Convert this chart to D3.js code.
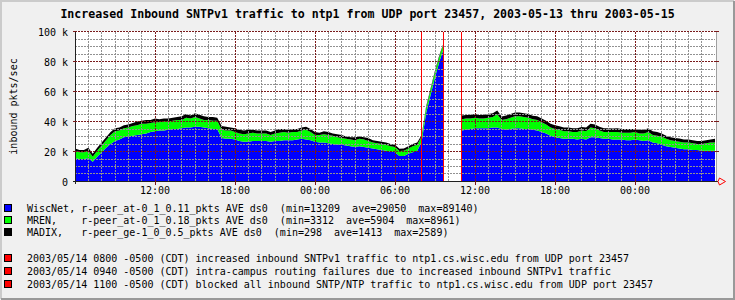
<!DOCTYPE html>
<html>
<head>
<meta charset="utf-8">
<script src="https://cdn.jsdelivr.net/npm/d3@7"></script>
<style>
  body { margin: 0; background: #f0f0f0; }
  svg text { font-family: "DejaVu Sans Mono", monospace; fill: #000; white-space: pre; }
</style>
</head>
<body>
<svg id="vis" width="735" height="300"></svg>
<script>
// samples every 20 minutes from 2003-05-13 06:00, values in k pkts/sec
var startTime = new Date(2003, 4, 13, 6, 0);
var endTime = new Date(2003, 4, 15, 6, 0);
var stepMinutes = 20;

var wiscnet = [
  15.5, 15, 15, 15.5, 13.2, 16.5, 19.5, 22.5, 25, 27,
  28, 29.5, 30, 30.5, 31, 31.5, 32, 33, 33.5, 34,
  34, 34.5, 35, 35, 35.5, 36, 36, 36.5, 36.5, 36,
  35.5, 35, 35, 29, 28.5, 28.5, 28, 27, 26.5, 26.5,
  27, 27, 27, 27, 26.5, 27, 27, 27.5, 27.5, 27.5,
  28, 28.5, 28, 27.5, 26.5, 26, 26, 25.5, 25, 24.5,
  24.5, 24, 23.5, 23, 23.5, 23, 22.5, 22, 21.5, 21,
  20.5, 20, 19.5, 17, 17, 18.5, 19.5, 20.5, 26.5, 45.5,
  57.5, 69.5, 80, 89.1, null, null, null, 34, 34.5, 35,
  35.5, 35.5, 35.5, 35.5, 36, 36, 35, 34.5, 35, 35.5,
  35.5, 35, 35, 34.5, 34, 33, 32, 30.5, 29.5, 29,
  28.5, 28.5, 28.5, 28, 28.5, 28, 29.5, 29.5, 29, 28.5,
  28.5, 28, 28, 28, 27.5, 27.5, 28, 27.5, 27, 27.5,
  26, 25.5, 24.5, 23.5, 23, 22.5, 22, 21.5, 21.5, 21,
  21, 20.5, 20.5, 20.5, 20.5
];

var mren = [
  5, 4.5, 4.5, 5, 3.3, 4, 4.5, 5, 6, 6.5,
  6, 6, 6, 6.5, 6.5, 7, 6.5, 6, 6, 5.5,
  6, 5.5, 5.5, 6, 5.5, 6.5, 6, 6.5, 5.5, 5,
  5.5, 5.5, 5.5, 5.5, 5.5, 5.5, 5, 5, 5, 5.5,
  5.5, 5, 5, 5, 4.5, 5, 5.5, 5.5, 5, 5.5,
  5, 5.5, 6.5, 5.5, 4.5, 5, 5.5, 5.5, 5.5, 5,
  4.5, 4.5, 4.5, 4.5, 5, 5, 4.5, 4, 4, 4,
  4, 3.5, 3.5, 3.4, 3.5, 3.5, 4, 4, 3.5, 3.5,
  3.5, 3.5, 3.5, 3.3, null, null, null, 7.5, 7.5, 7,
  7, 6.5, 6.5, 7, 7, 8.9, 6, 7, 7.5, 8,
  8, 8, 7.5, 7, 7, 6.5, 6, 5.5, 5.5, 5.5,
  5, 5, 4.5, 5, 5.5, 5.5, 6.5, 6, 5, 4.5,
  4.5, 5, 5, 4.5, 5, 5, 5, 4.5, 5, 5.5,
  5, 5, 5.5, 5, 4.5, 4.5, 4.5, 4.5, 4.5, 4.5,
  4, 4.5, 5, 5.5, 5.5
];

var madix = [
  1.5, 1.5, 1.5, 2, 2, 2, 2, 2, 2, 2,
  2, 2, 2, 2, 2.5, 2, 2.5, 2, 2.5, 2,
  2, 2, 2, 2, 2.5, 2.5, 2, 2.5, 2.5, 2.5,
  2, 2.5, 2, 2.5, 2.5, 2, 2.5, 2.5, 2.5, 2.5,
  2, 2, 2, 2, 2, 2, 2.5, 2, 2, 2,
  2, 2, 2, 2, 2, 1.5, 2, 2, 1.5, 2,
  2, 1.5, 1.5, 2, 1.5, 1.5, 2, 1.5, 1.5, 1.5,
  1.5, 1.5, 1.5, 1.5, 1.5, 1.5, 1.5, 1.5, 1, 1,
  1, 1, 1, 0.5, null, null, null, 2.5, 2.4, 2.5,
  2.5, 2.4, 2.5, 2.5, 2.5, 2.5, 2.4, 2.5, 2.5, 2.5,
  2.5, 2.5, 2.5, 2.4, 2.5, 2.5, 2.5, 2.5, 2.5, 2.4,
  2.5, 2.5, 2.5, 2.5, 2.4, 2.5, 2.5, 2.5, 2.5, 2.5,
  2.5, 2.4, 2.5, 2.5, 2.5, 2.5, 2, 2.5, 2.5, 2.5,
  2.5, 2.5, 2, 2, 2, 2, 2.2, 2, 2, 2,
  2, 2, 2, 2, 2.5
];

var seriesKeys = ["wiscnet", "mren", "madix"];
var seriesColors = ["#0000ff", "#00ff00", "#000000"];
var seriesLegend = [
  "WiscNet, r-peer_at-0_1_0.11_pkts AVE ds0  (min=13209  ave=29050  max=89140)",
  "MREN,    r-peer_at-0_1_0.18_pkts AVE ds0  (min=3312  ave=5904  max=8961)",
  "MADIX,   r-peer_ge-1_0_0.5_pkts AVE ds0  (min=298  ave=1413  max=2589)"
];

var eventTimes = [new Date(2003, 4, 14, 8, 0), new Date(2003, 4, 14, 9, 40), new Date(2003, 4, 14, 11, 0)];
var eventNotes = [
  "2003/05/14 0800 -0500 (CDT) increased inbound SNTPv1 traffic to ntp1.cs.wisc.edu from UDP port 23457",
  "2003/05/14 0940 -0500 (CDT) intra-campus routing failures due to increased inbound SNTPv1 traffic",
  "2003/05/14 1100 -0500 (CDT) blocked all inbound SNTP/NTP traffic to ntp1.cs.wisc.edu from UDP port 23457"
];

var yTicks = [0, 20, 40, 60, 80, 100];

/* setup */
var svg = d3.select("#vis");
var W = 735, H = 300;
var plotL = 75, plotR = 715, plotT = 31.5, plotB = 181.5;

var x = d3.scaleTime().domain([startTime, endTime]).range([plotL, plotR]);
var y = d3.scaleLinear().domain([0, 100]).range([plotB, plotT]);

function crisp(v) { return Math.floor(v) + 0.5; }

// background and 3d frame
svg.append("rect").attr("width", W).attr("height", H).attr("fill", "#f0f0f0");
svg.append("path").attr("d", "M1,299V1H734").attr("fill", "none").attr("stroke", "#cbcbcb").attr("stroke-width", 2);
svg.append("path").attr("d", "M1,299H734V1").attr("fill", "none").attr("stroke", "#999999").attr("stroke-width", 2);

// canvas
svg.append("rect").attr("x", plotL).attr("y", 31).attr("width", plotR - plotL + 1).attr("height", 151).attr("fill", "#ffffff");

// stacked data
var rows = wiscnet.map(function(v, i) {
  return {
    time: d3.timeMinute.offset(startTime, i * stepMinutes),
    wiscnet: v, mren: mren[i], madix: madix[i]
  };
});

var stack = d3.stack().keys(seriesKeys)
  .value(function(d, key) { return d[key] == null ? NaN : d[key]; });
var layers = stack(rows);

var area = d3.area()
  .defined(function(d) { return !isNaN(d[1]); })
  .x(function(d) { return x(d.data.time); })
  .y0(function(d) { return y(d[0]); })
  .y1(function(d) { return y(d[1]); });

svg.append("g").selectAll("path")
  .data(layers)
  .enter().append("path")
    .attr("d", area)
    .attr("fill", function(d, i) { return seriesColors[i]; });

// grid
var minorY = d3.range(5, 100, 5).filter(function(v) { return v % 20 != 0; });
var majorY = yTicks.slice(1);
var hours = d3.timeHour.range(startTime, endTime).concat([endTime]);
var minorX = hours.filter(function(t) { return t.getHours() % 6 != 0; });
var majorX = hours.filter(function(t) { return t.getHours() % 6 == 0; }).slice(1, -1);

var grid = svg.append("g").attr("shape-rendering", "crispEdges").attr("stroke-width", 1);

grid.selectAll(".mny").data(minorY).enter().append("line")
  .attr("x1", plotL).attr("x2", plotR)
  .attr("y1", function(d) { return crisp(y(d)); }).attr("y2", function(d) { return crisp(y(d)); })
  .attr("stroke", "#919191").attr("stroke-dasharray", "2,1");

grid.selectAll(".mnx").data(minorX).enter().append("line")
  .attr("x1", function(d) { return crisp(x(d)); }).attr("x2", function(d) { return crisp(x(d)); })
  .attr("y1", plotT).attr("y2", plotB)
  .attr("stroke", "#919191").attr("stroke-dasharray", "2,1");

grid.selectAll(".mjy").data(majorY).enter().append("line")
  .attr("x1", plotL).attr("x2", plotR)
  .attr("y1", function(d) { return crisp(y(d)); }).attr("y2", function(d) { return crisp(y(d)); })
  .attr("stroke", "#7a1a1a").attr("stroke-dasharray", "2,1");

grid.selectAll(".mjx").data(majorX).enter().append("line")
  .attr("x1", function(d) { return crisp(x(d)); }).attr("x2", function(d) { return crisp(x(d)); })
  .attr("y1", plotT).attr("y2", plotB)
  .attr("stroke", "#7a1a1a").attr("stroke-dasharray", "2,1");

// event rules
svg.append("g").attr("shape-rendering", "crispEdges")
  .selectAll("line").data(eventTimes).enter().append("line")
    .attr("x1", function(d) { return crisp(x(d)); }).attr("x2", function(d) { return crisp(x(d)); })
    .attr("y1", plotT).attr("y2", plotB)
    .attr("stroke", "#ff0000").attr("stroke-width", 1);

// axes and frame
var ax = svg.append("g").attr("shape-rendering", "crispEdges");
ax.append("line").attr("x1", plotR + 1.5).attr("x2", plotR + 1.5).attr("y1", plotT).attr("y2", plotB)
  .attr("stroke", "#a0a0a0");
ax.append("line").attr("x1", plotL + 0.5).attr("x2", plotL + 0.5).attr("y1", plotT - 1).attr("y2", plotB + 2)
  .attr("stroke", "#202020");
ax.append("line").attr("x1", plotL - 2).attr("x2", plotR + 3).attr("y1", plotB).attr("y2", plotB)
  .attr("stroke", "#202020");

ax.selectAll(".tl").data(majorY).enter().append("line")
  .attr("x1", plotL - 2).attr("x2", plotL + 2)
  .attr("y1", function(d) { return crisp(y(d)); }).attr("y2", function(d) { return crisp(y(d)); })
  .attr("stroke", "#7a1a1a");
ax.selectAll(".tr").data(majorY).enter().append("line")
  .attr("x1", plotR).attr("x2", plotR + 4)
  .attr("y1", function(d) { return crisp(y(d)); }).attr("y2", function(d) { return crisp(y(d)); })
  .attr("stroke", "#7a1a1a");
ax.selectAll(".tb").data(majorX).enter().append("line")
  .attr("x1", function(d) { return crisp(x(d)); }).attr("x2", function(d) { return crisp(x(d)); })
  .attr("y1", plotB - 2).attr("y2", plotB + 3)
  .attr("stroke", "#7a1a1a");

// arrow at the end of the time axis
svg.append("path")
  .attr("d", "M" + (plotR + 3) + "," + plotB + "L" + (plotR + 4.5) + "," + (plotB - 3.5) + "L" + (plotR + 10.5) + "," + plotB + "L" + (plotR + 4.5) + "," + (plotB + 3.5) + "Z")
  .attr("fill", "none").attr("stroke", "#ff0000").attr("stroke-width", 1);

// tick labels
svg.append("g").attr("font-size", 10).attr("text-anchor", "end")
  .selectAll("text").data(yTicks).enter().append("text")
    .attr("x", 68).attr("y", function(d) { return y(d) + 4; })
    .text(function(d) { return d == 0 ? "0" : d + " k"; });

var fmt = d3.timeFormat("%H:%M");
svg.append("g").attr("font-size", 10).attr("text-anchor", "middle")
  .selectAll("text").data(majorX).enter().append("text")
    .attr("x", function(d) { return x(d); }).attr("y", 194)
    .text(fmt);

// title and y label
svg.append("text").attr("x", 367.5).attr("y", 18).attr("text-anchor", "middle")
  .attr("font-size", 11.6).attr("font-weight", "bold")
  .text("Increased Inbound SNTPv1 traffic to ntp1 from UDP port 23457, 2003-05-13 thru 2003-05-15");

svg.append("text").attr("transform", "translate(16.5,106.5) rotate(-90)")
  .attr("text-anchor", "middle").attr("font-size", 10)
  .text("inbound pkts/sec");

// legend
var legendRows = [212, 224, 235.5];
var noteRows = [262, 275, 288];

var leg = svg.append("g").attr("font-size", 10);
leg.selectAll("rect.s").data(seriesLegend).enter().append("rect")
  .attr("x", 4.5).attr("y", function(d, i) { return legendRows[i] - 7.5; })
  .attr("width", 7).attr("height", 7)
  .attr("fill", function(d, i) { return seriesColors[i]; })
  .attr("stroke", "#000").attr("shape-rendering", "crispEdges");
leg.selectAll("text.s").data(seriesLegend).enter().append("text")
  .attr("x", 27).attr("y", function(d, i) { return legendRows[i]; })
  .text(function(d) { return d; });

leg.selectAll("rect.n").data(eventNotes).enter().append("rect")
  .attr("x", 4.5).attr("y", function(d, i) { return noteRows[i] - 7.5; })
  .attr("width", 7).attr("height", 7)
  .attr("fill", "#ff0000").attr("stroke", "#000").attr("shape-rendering", "crispEdges");
leg.selectAll("text.n").data(eventNotes).enter().append("text")
  .attr("x", 27).attr("y", function(d, i) { return noteRows[i]; })
  .text(function(d) { return d; });
</script>
</body>
</html>
